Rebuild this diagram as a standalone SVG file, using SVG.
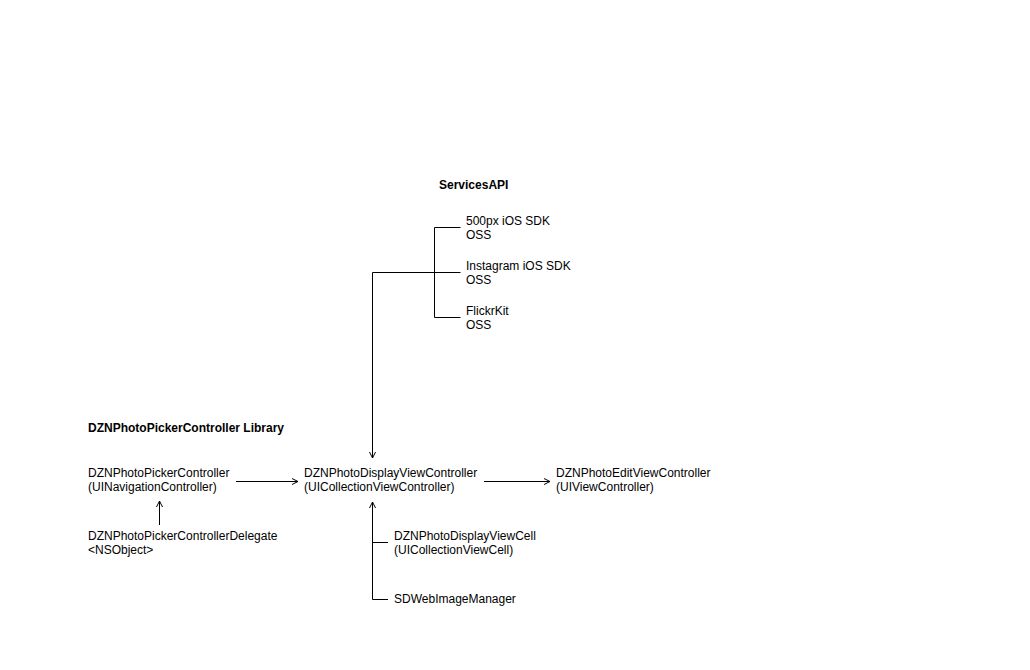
<svg xmlns="http://www.w3.org/2000/svg" width="1030" height="670" viewBox="0 0 1030 670">
<style>
text{font-family:"Liberation Sans",Arial,sans-serif;font-size:12px;fill:#000}
.b{font-weight:bold}
.c{fill:none;stroke:#000;stroke-width:1}
</style>
<defs>
<marker id="a" markerWidth="10" markerHeight="10" refX="7" refY="4" orient="auto" markerUnits="userSpaceOnUse">
<path d="M1,1 L7,4 L1,7" fill="none" stroke="#000" stroke-width="1"/>
</marker>
</defs>
<rect width="1030" height="670" fill="#fff"/>
<g id="title-services"><text class="b" x="439" y="189">ServicesAPI</text></g>
<g id="title-library"><text class="b" x="88" y="432">DZNPhotoPickerController Library</text></g>
<g id="n500px"><text x="466" y="225">500px iOS SDK</text><text x="466" y="239">OSS</text></g>
<g id="ninstagram"><text x="466" y="270">Instagram iOS SDK</text><text x="466" y="284">OSS</text></g>
<g id="nflickr"><text x="466" y="315">FlickrKit</text><text x="466" y="329">OSS</text></g>
<g id="npicker"><text x="88" y="477">DZNPhotoPickerController</text><text x="88" y="491">(UINavigationController)</text></g>
<g id="ndisplay"><text x="304" y="477">DZNPhotoDisplayViewController</text><text x="304" y="491">(UICollectionViewController)</text></g>
<g id="nedit"><text x="556" y="477">DZNPhotoEditViewController</text><text x="556" y="491">(UIViewController)</text></g>
<g id="ndelegate"><text x="88" y="540">DZNPhotoPickerControllerDelegate</text><text x="88" y="554">&lt;NSObject&gt;</text></g>
<g id="ncell"><text x="394" y="540">DZNPhotoDisplayViewCell</text><text x="394" y="554">(UICollectionViewCell)</text></g>
<g id="nsdweb"><text x="394" y="603">SDWebImageManager</text></g>
<g id="connectors">
<path class="c" d="M460.5,227.5 H434.5 V317.5 H460.5 M434.5,272.5 H460.5"/>
<path class="c" d="M434.5,272.5 H372.5 V458" marker-end="url(#a)"/>
<path class="c" d="M236,481.5 H298" marker-end="url(#a)"/>
<path class="c" d="M484,481.5 H550" marker-end="url(#a)"/>
<path class="c" d="M159.5,525 V501" marker-end="url(#a)"/>
<path class="c" d="M388,599.5 H372.5 V502" marker-end="url(#a)"/>
<path class="c" d="M372.5,542.5 H388"/>
</g>
</svg>
